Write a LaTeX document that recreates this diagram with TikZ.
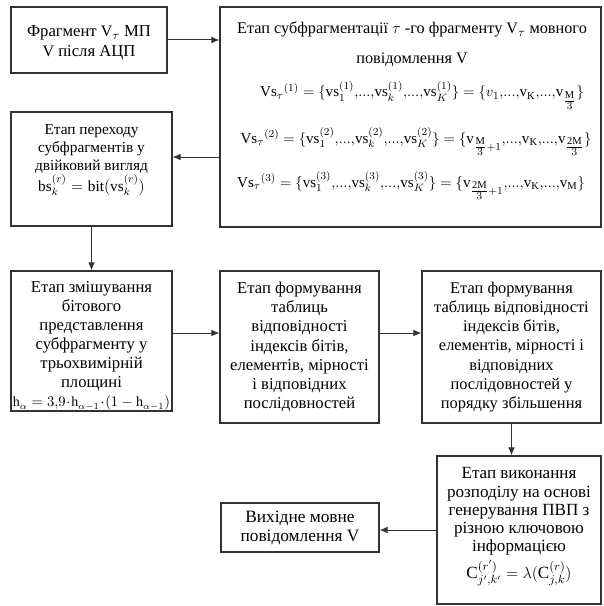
\documentclass[tikz,border=0pt]{standalone}
\usepackage{amsmath}
\usepackage{fontspec}
\setmainfont{Liberation Serif}
\usetikzlibrary{arrows.meta,calc}
\newcommand\mr[1]{\mathrm{#1}}
\newcommand\fr[2]{\genfrac{}{}{}{1}{#1}{#2}}
\newcommand\dd{{,}{.}{.}{.}{,}}
\tikzset{
  box/.style={draw=black!80, line width=0.8pt, rectangle, align=center, inner sep=1pt},
  txt/.style={inner sep=0pt, anchor=base, font=\fontsize{12.2}{14}\selectfont},
  blk/.style={inner sep=0pt, align=center},
  fml/.style={inner sep=0pt, anchor=base, font=\fontsize{11.3}{14}\selectfont},
  arr/.style={draw=black!80, line width=0.75pt, -{Latex[length=6pt,width=5pt]}},
}
\begin{document}
\begin{tikzpicture}[x=0.75pt,y=-0.75pt]
\useasboundingbox (0,0) rectangle (603,606);
% box 1
\node[box, minimum width=156*0.75pt, minimum height=66*0.75pt] (B1) at (89,40) {};
\node[blk, font=\fontsize{12.5}{15}\selectfont] (B1t) at (89,43)
  {Фрагмент {\large V}$_\tau$ МП\\{\large V} після АЦП};
% box 2
\node[box, minimum width=381*0.75pt, minimum height=220*0.75pt] (B2) at (410.5,117) {};
\node[txt] (t1) at (412,34) {Етап субфрагментації $\tau$ -го фрагменту {\large V}$_\tau$ мовного};
\node[txt] (t2) at (412,64) {повідомлення {\large V}};
\node[fml] (t3) at (422,97)
  {$\mr{Vs}_\tau{}^{(1)}=\{\mr{vs}_1^{(1)}\dd\mr{vs}_k^{(1)}\dd\mr{vs}_K^{(1)}\}=\{v_1\dd\mr{v}_\mr{K}\dd\mr{v}_{\fr{\mr{M}}{3}}\}$};
\node[fml] (t4) at (416,143)
  {$\mr{Vs}_\tau{}^{(2)}=\{\mr{vs}_1^{(2)}\dd\mr{vs}_k^{(2)}\dd\mr{vs}_K^{(2)}\}=\{\mr{v}_{\fr{\mr{M}}{3}+1}\dd\mr{v}_\mr{K}\dd\mr{v}_{\fr{\mr{2M}}{3}}\}$};
\node[fml] (t5) at (411,187)
  {$\mr{Vs}_\tau{}^{(3)}=\{\mr{vs}_1^{(3)}\dd\mr{vs}_k^{(3)}\dd\mr{vs}_K^{(3)}\}=\{\mr{v}_{\fr{\mr{2M}}{3}+1}\dd\mr{v}_\mr{K}\dd\mr{v}_\mr{M}\}$};
% box 3
\node[box, minimum width=161*0.75pt, minimum height=114*0.75pt] (B3) at (91.5,169) {};
\node[blk, font=\fontsize{11.5}{13.5}\selectfont] (B3t) at (91.5,160)
  {Етап переходу\\субфрагментів у\\двійковий вигляд\\$\mr{bs}_k^{(r)}=\mr{bit}(\mr{vs}_k^{(r)})$};
% box 4
\node[box, minimum width=161*0.75pt, minimum height=140*0.75pt] (B4) at (91.5,341) {};
\node[blk, font=\fontsize{12.5}{14.3}\selectfont] (B4t) at (91.5,346)
  {Етап змішування\\бітового\\представлення\\субфрагменту у\\трьохвимірній\\площині\\
   {\fontsize{10.5}{13}\selectfont$\mr{h}_\alpha=3{,}9\!\cdot\!\mr{h}_{\alpha-1}\!\cdot\!(1-\mr{h}_{\alpha-1})$}};
% box 5
\node[box, minimum width=159*0.75pt, minimum height=152*0.75pt,
  font=\fontsize{12.5}{14.4}\selectfont] (B5) at (299.5,347)
  {Етап формування\\таблиць\\відповідності\\індексів бітів,\\елементів, мірності\\і відповідних\\послідовностей};
% box 6
\node[box, minimum width=179*0.75pt, minimum height=152*0.75pt,
  font=\fontsize{12.3}{14.4}\selectfont] (B6) at (511.5,347)
  {Етап формування\\таблиць відповідності\\індексів бітів,\\елементів, мірності і\\відповідних\\послідовностей у\\порядку збільшення};
% box 7
\node[box, minimum width=164*0.75pt, minimum height=148*0.75pt] (B7) at (519,530) {};
\node[blk, font=\fontsize{12.8}{13.6}\selectfont] (B7t) at (519,527)
  {Етап виконання\\розподілу на основі\\генерування ПВП з\\різною ключовою\\інформацією\\[3pt]
   $\mr{C}_{j',k'}^{(r')}=\lambda(\mr{C}_{j,k}^{(r)})$};
% box 8
\node[box, minimum width=158*0.75pt, minimum height=49*0.75pt,
  font=\fontsize{13}{14.3}\selectfont] (B8) at (300,527.5)
  {Вихідне мовне\\повідомлення V};
% helper coordinates
\coordinate (y23) at (0,157);
\coordinate (y45) at (0,333);
\coordinate (y78) at (0,530);
% arrows
\draw[arr] (B1.east) -- (B1.east -| B2.west);
\draw[arr] (B2.west |- y23) -- (B3.east |- y23);
\draw[arr] (B3.south) -- (B3.south |- B4.north);
\draw[arr] (B4.east |- y45) -- (B5.west |- y45);
\draw[arr] (B5.east |- y45) -- (B6.west |- y45);
\draw[arr] (B6.south) -- (B6.south |- B7.north);
\draw[arr] (B7.west |- y78) -- (B8.east |- y78);
\end{tikzpicture}
\end{document}
